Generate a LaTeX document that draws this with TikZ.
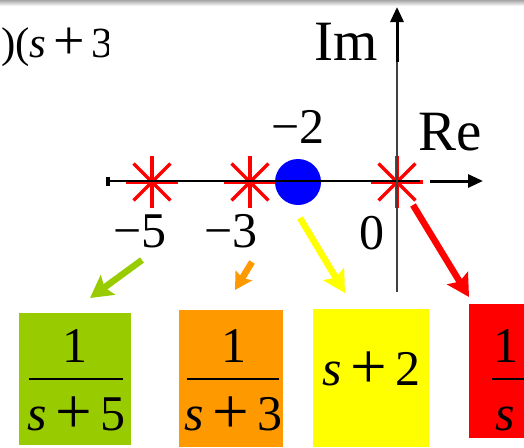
\documentclass[tikz,border=0pt]{standalone}
\usepackage{fontspec}
\setmainfont{Liberation Serif}
\usetikzlibrary{arrows.meta, calc}
\definecolor{cgreen}{HTML}{99CC00}
\definecolor{corange}{HTML}{FF9900}
\definecolor{cyellow}{HTML}{FFFF00}
\definecolor{cred}{HTML}{FF0000}
\definecolor{cblue}{HTML}{0000FF}
\newcommand\sterm[1]{\textit{s}\kern.16em\raisebox{-.06em}{\scalebox{1.3}{+}}\kern.16em#1}

\begin{document}
\begin{tikzpicture}[x=1pt, y=-1pt,
  every node/.style={inner sep=0pt, font=\fontsize{50}{60}\selectfont},
  big/.style={font=\fontsize{57}{68}\selectfont},
  pole/.style={draw=cred, line width=3.5pt},
  tfbox/.style={rectangle, draw=none},
  bar/.style={line width=2.5pt},
  axis/.style={line width=1.6pt},
  axisarrow/.style={-{Triangle[length=15pt, width=13pt]}, line width=3pt},
  tfarrow/.style={-{Stealth[length=22pt, width=24pt, inset=4pt]}, line width=6.5pt}
]
  \useasboundingbox (0,0) rectangle (524,447);
  \clip (0,0) rectangle (524,447);
  \shade[top color=gray!70, bottom color=white] (0,0) rectangle (524,6);

  % leftover of the factored denominator
  \begin{scope}
    \clip (0,10) rectangle (108,80);
    \node[anchor=base west, font=\fontsize{43}{52}\selectfont] (den) at (1,57) {)(\sterm{3})};
  \end{scope}

  % poles and zero
  \coordinate (p5) at (152,182);
  \coordinate (p3) at (250,182);
  \coordinate (p0) at (397,182);
  \foreach \p in {p5,p3,p0}
    \foreach \a in {0,45,90,135}
      \draw[pole] ($(\p)+(\a:26)$) -- ($(\p)+(\a+180:26)$);
  \node[circle, fill=cblue, minimum size=46pt] (z2) at (298,182) {};

  % axes
  \fill (106,177) rectangle (110,186);
  \draw[axis] (108,181) -- (420,181);
  \draw[axisarrow] (430,181) -- (483,181);
  \draw[axis, black!75] (397,292) -- (397,60);
  \draw[axisarrow] (397,62) -- (397,7);

  \node[big, anchor=base] (im) at (346,60) {Im};
  \node[big, anchor=base] (re) at (450,150) {Re};
  \node[anchor=base] (l2) at (298,143) {−2};
  \node[anchor=base] (l5) at (140,247) {−5};
  \node[anchor=base] (l3) at (231,247) {−3};
  \node[anchor=base] (l0) at (372,249) {0};

  % partial fractions
  \node[tfbox, fill=cgreen, minimum width=112pt, minimum height=132pt] (b5) at (75,379) {};
  \node[tfbox, fill=corange, minimum width=104pt, minimum height=137pt] (b3) at (231,378.5) {};
  \node[tfbox, fill=cyellow, minimum width=116pt, minimum height=138pt] (b2) at (371,378) {};
  \node[tfbox, fill=cred, minimum width=112pt, minimum height=134pt] (b0) at (525,371) {};

  \node[anchor=base] (n5) at (75,362) {1};
  \draw[bar] (29,379) -- (123,379);
  \node[anchor=base] (d5) at (76.5,430) {\sterm{5}};
  \node[anchor=base] (n3) at (233.5,362) {1};
  \draw[bar] (187,379) -- (279,379);
  \node[anchor=base] (d3) at (233.5,430) {\sterm{3}};
  \node[anchor=base] (n2) at (371.5,385) {\sterm{2}};
  \node[anchor=base] (n0) at (506,362) {1};
  \draw[bar] (492,379) -- (524,379);
  \node[anchor=base] (d0) at (505,430) {\textit{s}};

  % arrows from the roots to their terms
  \coordinate (a5) at (142,260);
  \coordinate (t5) at (90,298);
  \coordinate (a3) at (252,262);
  \coordinate (t3) at (235,290);
  \coordinate (a2) at (300,218);
  \coordinate (t2) at (345,293);
  \coordinate (a0) at (413,205);
  \coordinate (t0) at (469,297);
  \draw[tfarrow, cgreen] (a5) -- (t5);
  \draw[tfarrow, corange, -{Stealth[length=17pt, width=19pt, inset=3pt]}] (a3) -- (t3);
  \draw[tfarrow, cyellow] (a2) -- (t2);
  \draw[tfarrow, cred] (a0) -- (t0);
\end{tikzpicture}
\end{document}
